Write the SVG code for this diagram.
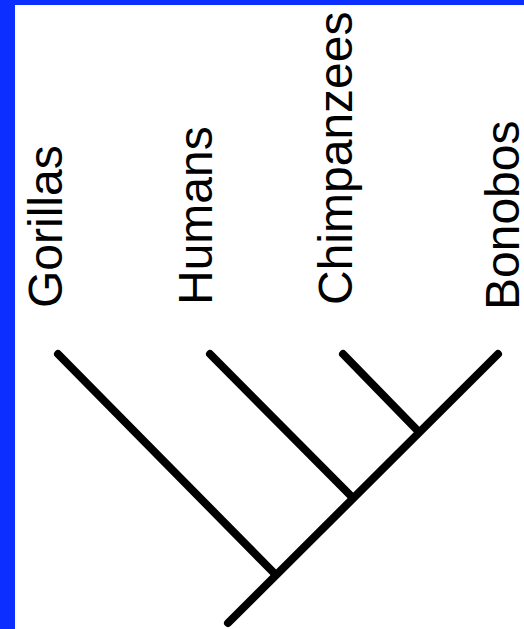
<svg xmlns="http://www.w3.org/2000/svg" width="524" height="629" viewBox="0 0 524 629">
<style>
.lbl{font-family:"Liberation Sans",Arial,sans-serif;font-size:48px;fill:#000}
.br{stroke:#000;stroke-width:8;stroke-linecap:round;fill:none}
</style>
<rect x="0" y="0" width="524" height="629" fill="#ffffff"/>
<rect x="0" y="0" width="15" height="629" fill="#0c2eff"/>
<rect x="0" y="0" width="524" height="5" fill="#0c2eff"/>
<g id="gorillas"><text class="lbl" transform="translate(62,308) rotate(-90)">Gorillas</text></g>
<g id="humans"><text class="lbl" transform="translate(212,305) rotate(-90)">Humans</text></g>
<g id="chimpanzees"><text class="lbl" transform="translate(352,305) rotate(-90)">Chimpanzees</text></g>
<g id="bonobos"><text class="lbl" transform="translate(519,310) rotate(-90)">Bonobos</text></g>
<g id="connectors">
<line class="br" x1="228" y1="623" x2="498" y2="354"/>
<line class="br" x1="58" y1="354" x2="275" y2="574"/>
<line class="br" x1="210" y1="354" x2="352" y2="497"/>
<line class="br" x1="343" y1="354" x2="418" y2="431"/>
</g>
</svg>
